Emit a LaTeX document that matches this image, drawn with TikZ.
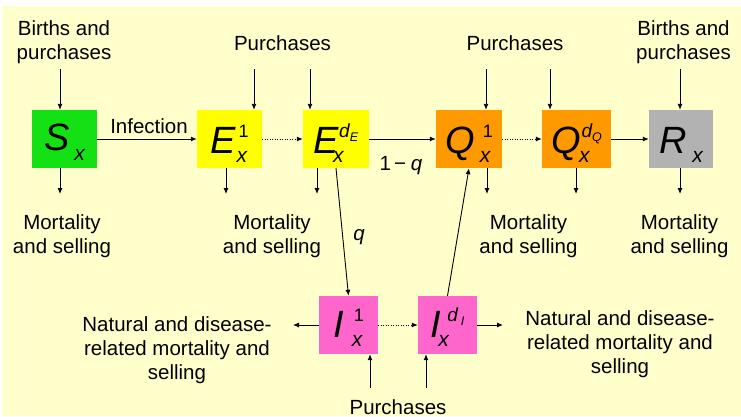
\documentclass[tikz,border=0pt]{standalone}
\usepackage{fontspec}
\setmainfont{Liberation Sans}
\usetikzlibrary{arrows.meta}
\definecolor{bgyellow}{HTML}{FFFFCC}
\definecolor{cgreen}{RGB}{20,225,20}
\definecolor{cyellow}{HTML}{FFFF00}
\definecolor{corange}{HTML}{FF9900}
\definecolor{cgray}{HTML}{B2B2B2}
\definecolor{cpink}{HTML}{FF66CC}

\newcommand{\ms}{\rule[-5pt]{0pt}{20pt}}
\newcommand{\Bsym}[1]{{\fontsize{38}{38}\selectfont\itshape #1}}
\newcommand{\Sx}{{\fontsize{21}{21}\selectfont\itshape x}}
\newcommand{\Sone}{{\fontsize{18}{18}\selectfont 1}}
\newcommand{\Sd}[1]{{\fontsize{19}{19}\selectfont\itshape d}\raisebox{-3.5pt}{\fontsize{12.5}{12.5}\selectfont\itshape #1}}
% letter, sup gap, sup, sub gap, sub
\newcommand{\Cmp}[5]{\Bsym{#1}\rlap{\hspace{#4}\raisebox{-9pt}{#5}}\hspace{#2}\raisebox{15.5pt}{#3}}

\tikzset{
 cbox/.style={inner sep=0pt, minimum height=58pt, text height=34pt, text depth=6pt},
 lbl/.style={inner sep=0pt, align=center, font=\fontsize{20.5}{24}\selectfont},
 arr/.style={line width=0.9pt, -{Latex[length=6pt,width=5pt]}},
 darr/.style={arr, dash pattern=on 1pt off 1.5pt},
}

\begin{document}
\begin{tikzpicture}[x=1pt,y=-1pt]
\useasboundingbox (0,0) rectangle (741,416);
\fill[bgyellow] (2,6) rectangle (741,416);

% compartments
\node[cbox, fill=cgreen, minimum width=65pt, text height=31pt, text depth=9pt] (S) at (64.5,139) {\Bsym{S}\hspace{5pt}\raisebox{-10pt}{\Sx}};
\node[cbox, fill=cyellow, minimum width=65pt] (E1) at (229.5,139) {\Cmp{E}{3pt}{\Sone}{1pt}{\Sx}};
\node[cbox, fill=cyellow, minimum width=66pt] (EdE) at (336,139) {\Cmp{E}{0pt}{\Sd{E}}{-6pt}{\Sx}};
\node[cbox, fill=corange, minimum width=66pt] (Q1) at (469,139) {\Cmp{Q}{8pt}{\Sone}{5pt}{\Sx}};
\node[cbox, fill=corange, minimum width=69pt] (QdQ) at (576.5,139) {\Cmp{Q}{1pt}{\Sd{Q}}{-1.5pt}{\Sx}};
\node[cbox, fill=cgray, minimum width=64pt] (R) at (681,139) {\Bsym{R}\hspace{6pt}\raisebox{-9pt}{\Sx}};
\node[cbox, fill=cpink, minimum width=59pt, text height=32pt, text depth=8pt] (I1) at (348.5,325) {\Cmp{I}{10pt}{\Sone}{8pt}{\Sx}};
\node[cbox, fill=cpink, minimum width=59pt, text height=32pt, text depth=8pt] (IdI) at (447.5,325) {\Cmp{I}{6pt}{\Sd{\hspace{3pt}I}}{-3pt}{\Sx}};

% text labels
\node[lbl] (tl1) at (64,42.7) {\ms Births and\\\ms purchases};
\node[lbl] (tl2) at (282.5,45) {\ms Purchases};
\node[lbl] (tl3) at (515,45) {\ms Purchases};
\node[lbl] (tl4) at (683.5,42.7) {\ms Births and\\\ms purchases};
\node[lbl] (inf) at (149,128) {\ms Infection};
\node[lbl] (m1) at (62,236) {\ms Mortality\\\ms and selling};
\node[lbl] (m2) at (272,236) {\ms Mortality\\\ms and selling};
\node[lbl] (m3) at (528.5,236) {\ms Mortality\\\ms and selling};
\node[lbl] (m4) at (679.5,236) {\ms Mortality\\\ms and selling};
\node[lbl] (nl) at (177,350.7) {\ms Natural and disease-\\\ms related mortality and\\\ms selling};
\node[lbl] (nr) at (620,344) {\ms Natural and disease-\\\ms related mortality and\\\ms selling};
\node[lbl] (pb) at (398,409) {\ms Purchases};
\node[lbl] (lq) at (359,235) {\ms\itshape q};
\node[lbl] (lq1) at (401,165) {\ms 1\kern3pt−\kern5pt\textit{q}};

% free ends
\coordinate (tS) at (60,69);
\coordinate (tE1) at (254,69);
\coordinate (tEd) at (310,69);
\coordinate (tQ1) at (486,69);
\coordinate (tQd) at (550,69);
\coordinate (tR) at (680,69);
\coordinate (bS) at (60,194);
\coordinate (bE1) at (226,194);
\coordinate (bEd) at (317,194);
\coordinate (bQ1) at (487,194);
\coordinate (bQd) at (576,194);
\coordinate (bR) at (680,194);
\coordinate (lI) at (293,325);
\coordinate (rI) at (503,325);
\coordinate (p1) at (370,388);
\coordinate (p2) at (426,388);

% flows
\draw[arr] (S) -- (E1);
\draw[darr] (E1) -- (EdE);
\draw[arr] (EdE) -- (Q1);
\draw[darr] (Q1) -- (QdQ);
\draw[arr] (QdQ) -- (R);
\draw[arr] (EdE.south) -- (I1.north);
\draw[arr] (IdI.north) -- (Q1.south);
\draw[darr] (I1) -- (IdI);

\foreach \c/\n in {tS/S, tE1/E1, tEd/EdE, tQ1/Q1, tQd/QdQ, tR/R}
  \draw[arr] (\c) -- (\c |- \n.north);
\foreach \c/\n in {bS/S, bE1/E1, bEd/EdE, bQ1/Q1, bQd/QdQ, bR/R}
  \draw[arr] (\c |- \n.south) -- (\c);
\draw[arr] (I1.west) -- (lI);
\draw[arr] (IdI.east) -- (rI);
\draw[arr] (p1) -- (p1 |- I1.south);
\draw[arr] (p2) -- (p2 |- IdI.south);
\end{tikzpicture}
\end{document}
